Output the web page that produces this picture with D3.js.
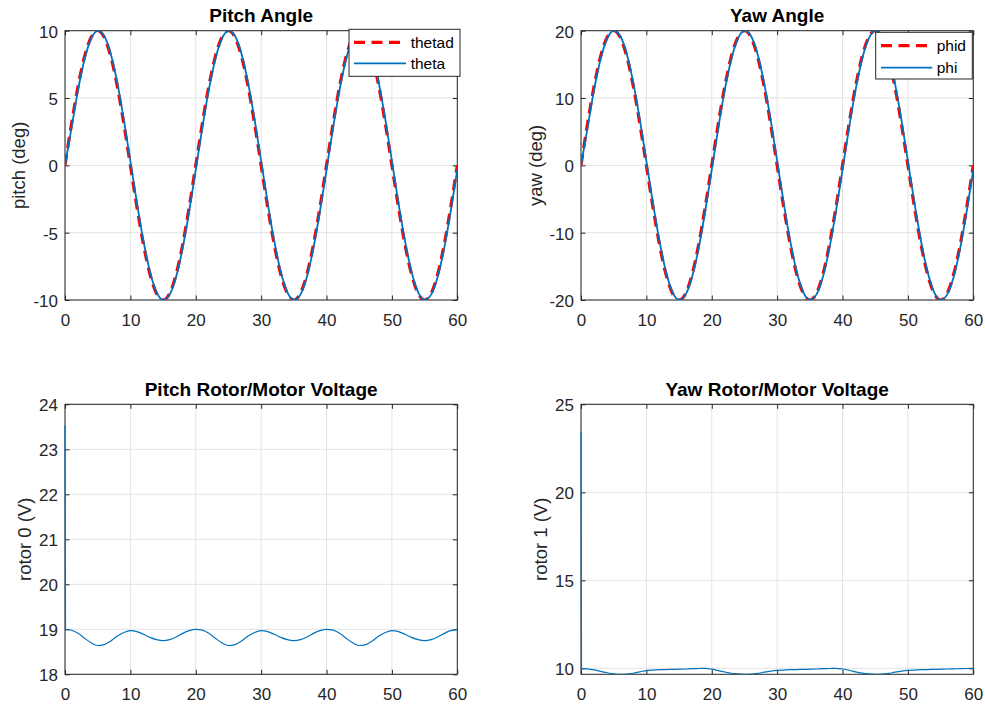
<!DOCTYPE html>
<html>
<head>
<meta charset="utf-8">
<script src="https://cdn.jsdelivr.net/npm/d3@7"></script>
<style>
  body { margin: 0; background: #fff; }
  text { font-family: "Liberation Sans", Arial, Helvetica, sans-serif; }
</style>
</head>
<body>
<svg id="fig" width="985" height="708"></svg>
<script>
// ---- data ---------------------------------------------------------------
const timeSec = [0, 1, 2, 3, 4, 5, 6, 7, 8, 9, 10, 11, 12, 13, 14, 15, 16, 17, 18, 19,
  20, 21, 22, 23, 24, 25, 26, 27, 28, 29, 30, 31, 32, 33, 34, 35, 36, 37, 38, 39,
  40, 41, 42, 43, 44, 45, 46, 47, 48, 49, 50, 51, 52, 53, 54, 55, 56, 57, 58, 59, 60];

// desired / measured pitch angle (deg)
const thetadDeg = [0, 3.09, 5.88, 8.09, 9.51, 10, 9.51, 8.09, 5.88, 3.09,
  0, -3.09, -5.88, -8.09, -9.51, -10, -9.51, -8.09, -5.88, -3.09,
  0, 3.09, 5.88, 8.09, 9.51, 10, 9.51, 8.09, 5.88, 3.09,
  0, -3.09, -5.88, -8.09, -9.51, -10, -9.51, -8.09, -5.88, -3.09,
  0, 3.09, 5.88, 8.09, 9.51, 10, 9.51, 8.09, 5.88, 3.09,
  0, -3.09, -5.88, -8.09, -9.51, -10, -9.51, -8.09, -5.88, -3.09, 0];
const thetaDeg = [0, 2.79, 5.62, 7.90, 9.41, 9.99, 9.60, 8.27, 6.13, 3.39,
  0.31, -2.79, -5.62, -7.90, -9.41, -9.99, -9.60, -8.27, -6.13, -3.39,
  -0.31, 2.79, 5.62, 7.90, 9.41, 9.99, 9.60, 8.27, 6.13, 3.39,
  0.31, -2.79, -5.62, -7.90, -9.41, -9.99, -9.60, -8.27, -6.13, -3.39,
  -0.31, 2.79, 5.62, 7.90, 9.41, 9.99, 9.60, 8.27, 6.13, 3.39,
  0.31, -2.79, -5.62, -7.90, -9.41, -9.99, -9.60, -8.27, -6.13, -3.39, -0.31];

// desired / measured yaw angle (deg)
const phidDeg = [0, 6.18, 11.76, 16.18, 19.02, 20, 19.02, 16.18, 11.76, 6.18,
  0, -6.18, -11.76, -16.18, -19.02, -20, -19.02, -16.18, -11.76, -6.18,
  0, 6.18, 11.76, 16.18, 19.02, 20, 19.02, 16.18, 11.76, 6.18,
  0, -6.18, -11.76, -16.18, -19.02, -20, -19.02, -16.18, -11.76, -6.18,
  0, 6.18, 11.76, 16.18, 19.02, 20, 19.02, 16.18, 11.76, 6.18,
  0, -6.18, -11.76, -16.18, -19.02, -20, -19.02, -16.18, -11.76, -6.18, 0];
const phiDeg = [0, 5.58, 11.24, 15.80, 18.82, 19.99, 19.20, 16.54, 12.26, 6.78,
  0.63, -5.58, -11.24, -15.80, -18.82, -19.99, -19.20, -16.54, -12.26, -6.78,
  -0.63, 5.58, 11.24, 15.80, 18.82, 19.99, 19.20, 16.54, 12.26, 6.78,
  0.63, -5.58, -11.24, -15.80, -18.82, -19.99, -19.20, -16.54, -12.26, -6.78,
  -0.63, 5.58, 11.24, 15.80, 18.82, 19.99, 19.20, 16.54, 12.26, 6.78,
  0.63, -5.58, -11.24, -15.80, -18.82, -19.99, -19.20, -16.54, -12.26, -6.78, -0.63];

// rotor voltages: an initial spike at t = 0, then the steady response
const voltTimeSec = [0, 0.08].concat(timeSec.slice(1));
const rotor0Volt = [23.53, 19.00,
  18.98, 18.91, 18.80, 18.70, 18.64, 18.66, 18.74, 18.85, 18.93, 18.97,
  18.95, 18.89, 18.82, 18.77, 18.75, 18.77, 18.83, 18.91, 18.97, 19.00,
  18.98, 18.91, 18.80, 18.70, 18.64, 18.66, 18.74, 18.85, 18.93, 18.97,
  18.95, 18.89, 18.82, 18.77, 18.75, 18.77, 18.83, 18.91, 18.97, 19.00,
  18.98, 18.91, 18.80, 18.70, 18.64, 18.66, 18.74, 18.85, 18.93, 18.97,
  18.95, 18.89, 18.82, 18.77, 18.75, 18.77, 18.83, 18.91, 18.97, 19.00];
const rotor1Volt = [23.45, 10.00,
  9.97, 9.91, 9.83, 9.75, 9.69, 9.66, 9.67, 9.72, 9.80, 9.87,
  9.90, 9.92, 9.93, 9.94, 9.95, 9.96, 9.98, 9.99, 10.00, 9.95,
  9.87, 9.79, 9.72, 9.68, 9.66, 9.67, 9.71, 9.78, 9.84, 9.88,
  9.90, 9.92, 9.93, 9.94, 9.95, 9.96, 9.98, 9.99, 10.00, 9.96,
  9.89, 9.80, 9.73, 9.68, 9.66, 9.67, 9.71, 9.78, 9.84, 9.88,
  9.90, 9.92, 9.93, 9.94, 9.95, 9.96, 9.97, 9.98, 9.99, 10.00];

// axis ticks
const timeTicks = [0, 10, 20, 30, 40, 50, 60];
const pitchTicks = [-10, -5, 0, 5, 10];
const yawTicks = [-20, -10, 0, 10, 20];
const rotor0Ticks = [18, 19, 20, 21, 22, 23, 24];
const rotor1Ticks = [10, 15, 20, 25];

// ---- styles ------------------------------------------------------------
const AX = "#262626", GRID = "#e3e3e3", RED = "#ff0000", BLUE = "#0072bd";
const refStyle = { color: RED, width: 3.2, dash: "11,6.5" };
const measStyle = { color: BLUE, width: 1.8, dash: null };
const voltStyle = { color: BLUE, width: 1.2, dash: null };

const panels = [
  {
    title: "Pitch Angle", ylabel: "pitch (deg)",
    box: { l: 65, r: 457.3, t: 30.7, b: 300 }, titleY: 21.5, ylabelX: 19,
    yDomain: [-10, 10], yTicks: pitchTicks, clipPad: 0,
    series: [
      { name: "thetad", t: timeSec, v: thetadDeg, style: refStyle },
      { name: "theta", t: timeSec, v: thetaDeg, style: measStyle }
    ],
    legend: { x0: 349, x1: 460, y0: 29.3, y1: 76.3, rows: [42.3, 63.3], lx0: 354, lx1: 406, tx: 410.7 }
  },
  {
    title: "Yaw Angle", ylabel: "yaw (deg)",
    box: { l: 581, r: 973.3, t: 30.7, b: 300 }, titleY: 21.5, ylabelX: 536,
    yDomain: [-20, 20], yTicks: yawTicks, clipPad: 0,
    series: [
      { name: "phid", t: timeSec, v: phidDeg, style: refStyle },
      { name: "phi", t: timeSec, v: phiDeg, style: measStyle }
    ],
    legend: { x0: 875.7, x1: 972.3, y0: 32.3, y1: 79, rows: [45.7, 67.7], lx0: 881, lx1: 932.3, tx: 936.7 }
  },
  {
    title: "Pitch Rotor/Motor Voltage", ylabel: "rotor 0 (V)",
    box: { l: 65, r: 457.3, t: 404.3, b: 674.3 }, titleY: 396, ylabelX: 25,
    yDomain: [18, 24], yTicks: rotor0Ticks, clipPad: 1.5,
    series: [{ name: "rotor 0", t: voltTimeSec, v: rotor0Volt, style: voltStyle }],
    legend: null
  },
  {
    title: "Yaw Rotor/Motor Voltage", ylabel: "rotor 1 (V)",
    box: { l: 581, r: 973.3, t: 404.3, b: 674.3 }, titleY: 396, ylabelX: 540.5,
    yDomain: [9.66, 25], yTicks: rotor1Ticks, clipPad: 1.5,
    series: [{ name: "rotor 1", t: voltTimeSec, v: rotor1Volt, style: voltStyle }],
    legend: null
  }
];

const svg = d3.select("#fig");
svg.append("rect").attr("width", 985).attr("height", 708).attr("fill", "#fff");
const fmt = d => String(d);

panels.forEach((p, i) => {
  const b = p.box;
  const x = d3.scaleLinear().domain([0, 60]).range([b.l, b.r]);
  const y = d3.scaleLinear().domain(p.yDomain).range([b.b, b.t]);
  const g = svg.append("g");

  // grid
  const grid = g.append("g").attr("stroke", GRID).attr("stroke-width", 1);
  grid.selectAll(".gx").data(timeTicks).join("line")
    .attr("x1", d => x(d)).attr("x2", d => x(d)).attr("y1", b.t).attr("y2", b.b);
  grid.selectAll(".gy").data(p.yTicks).join("line")
    .attr("x1", b.l).attr("x2", b.r).attr("y1", d => y(d)).attr("y2", d => y(d));

  // axes with inward ticks on all four sides
  const tick = 4.5;
  const styleAxis = sel => {
    sel.select(".domain").remove();
    sel.selectAll(".tick line").attr("stroke", AX);
    sel.selectAll(".tick text").attr("fill", AX).attr("font-size", 17).attr("font-family", null);
  };
  g.append("g").attr("transform", `translate(0,${b.b})`)
    .call(d3.axisBottom(x).tickValues(timeTicks).tickSize(-tick).tickPadding(13.5).tickFormat(fmt))
    .call(styleAxis);
  g.append("g").attr("transform", `translate(0,${b.t})`)
    .call(d3.axisTop(x).tickValues(timeTicks).tickSize(-tick).tickFormat(""))
    .call(styleAxis);
  g.append("g").attr("transform", `translate(${b.l},0)`)
    .call(d3.axisLeft(y).tickValues(p.yTicks).tickSize(-tick).tickPadding(7).tickFormat(fmt))
    .call(styleAxis)
    .call(sel => sel.selectAll(".tick text").attr("dy", "0.38em"));
  g.append("g").attr("transform", `translate(${b.r},0)`)
    .call(d3.axisRight(y).tickValues(p.yTicks).tickSize(-tick).tickFormat(""))
    .call(styleAxis);
  g.append("rect")
    .attr("x", b.l).attr("y", b.t).attr("width", b.r - b.l).attr("height", b.b - b.t)
    .attr("fill", "none").attr("stroke", AX).attr("stroke-width", 1);

  // data lines, clipped to the axes box
  const clipId = "clip" + i;
  g.append("clipPath").attr("id", clipId).append("rect")
    .attr("x", b.l - p.clipPad).attr("y", b.t)
    .attr("width", b.r - b.l + p.clipPad).attr("height", b.b - b.t);
  const lineGen = d3.line().x(d => x(d[0])).y(d => y(d[1])).curve(d3.curveMonotoneX);
  const lines = g.append("g").attr("clip-path", `url(#${clipId})`);
  p.series.forEach(s => {
    const pts = s.t.map((t, k) => [t, s.v[k]]);
    lines.append("path").datum(pts)
      .attr("d", lineGen)
      .attr("fill", "none")
      .attr("stroke", s.style.color)
      .attr("stroke-width", s.style.width)
      .attr("stroke-dasharray", s.style.dash)
      .attr("stroke-linejoin", "round");
  });

  // title and y label
  g.append("text")
    .attr("x", (b.l + b.r) / 2).attr("y", p.titleY)
    .attr("text-anchor", "middle").attr("font-size", 19).attr("font-weight", "bold")
    .attr("fill", "#000").text(p.title);
  g.append("text")
    .attr("transform", `translate(${p.ylabelX},${(b.t + b.b) / 2}) rotate(-90)`)
    .attr("dy", "0.35em")
    .attr("text-anchor", "middle").attr("font-size", 18.5)
    .attr("fill", AX).text(p.ylabel);

  // legend
  if (p.legend) {
    const L = p.legend;
    const lg = g.append("g");
    lg.append("rect")
      .attr("x", L.x0).attr("y", L.y0).attr("width", L.x1 - L.x0).attr("height", L.y1 - L.y0)
      .attr("fill", "#fff").attr("stroke", AX).attr("stroke-width", 1);
    p.series.forEach((s, k) => {
      lg.append("line")
        .attr("x1", L.lx0).attr("x2", L.lx1).attr("y1", L.rows[k]).attr("y2", L.rows[k])
        .attr("stroke", s.style.color).attr("stroke-width", s.style.width)
        .attr("stroke-dasharray", s.style.dash);
      lg.append("text")
        .attr("x", L.tx).attr("y", L.rows[k]).attr("dy", "0.35em")
        .attr("font-size", 15.5).attr("fill", "#000").text(s.name);
    });
  }
});
</script>
</body>
</html>
